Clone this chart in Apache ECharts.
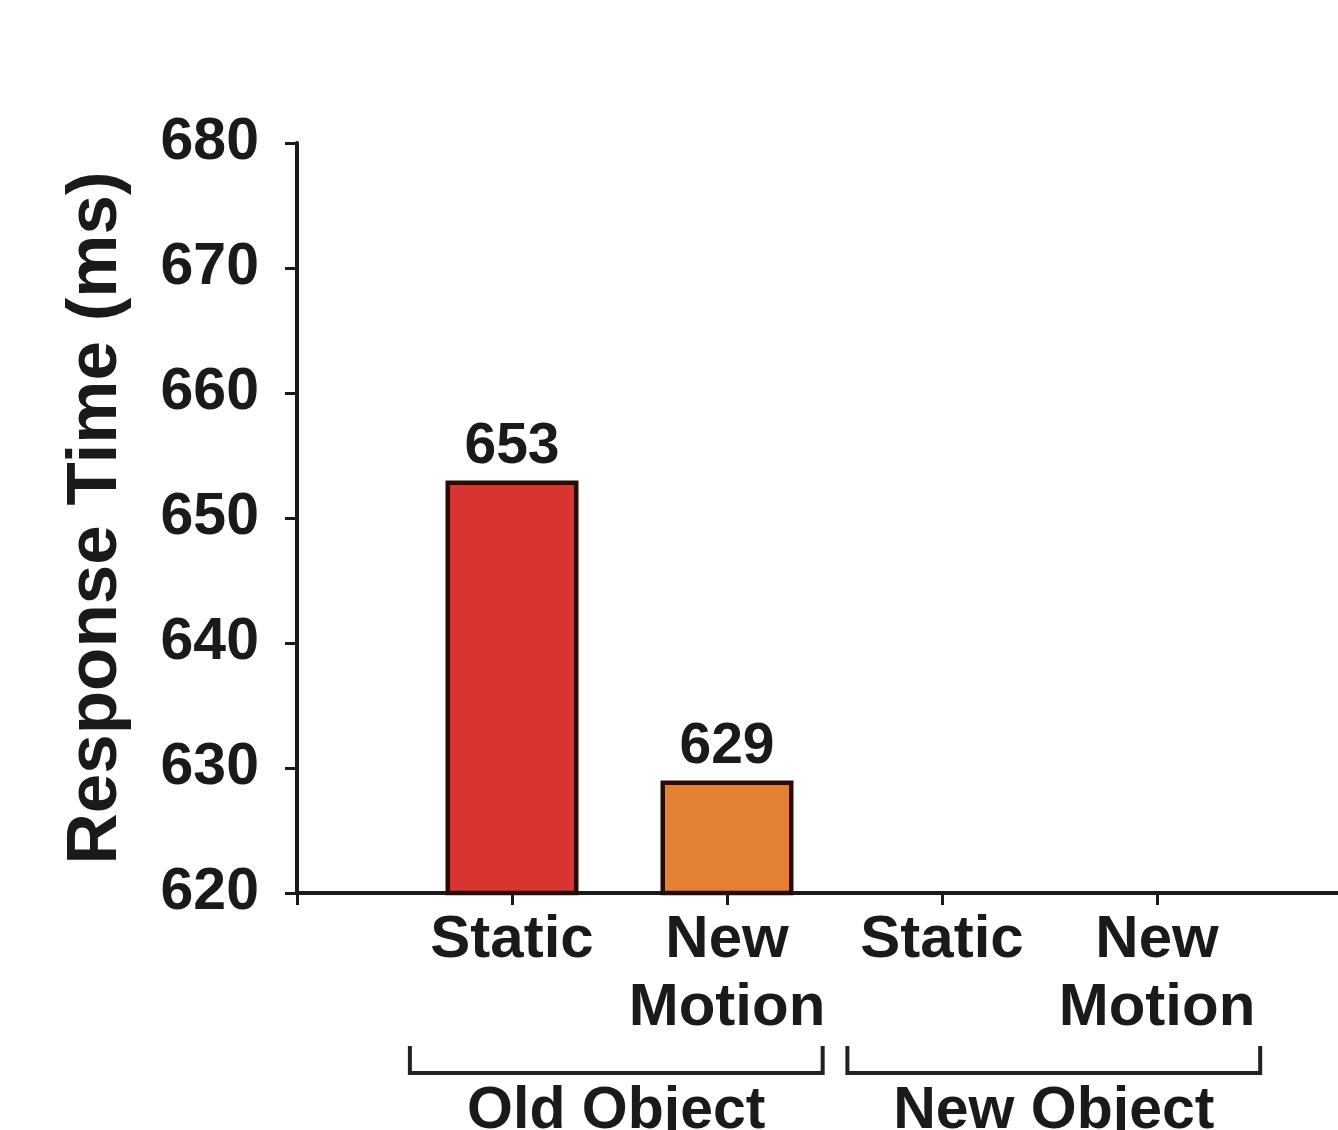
<!DOCTYPE html>
<html>
<head>
<meta charset="utf-8">
<script src="https://cdn.jsdelivr.net/npm/echarts@6/dist/echarts.min.js"></script>
<style>
html,body{margin:0;padding:0;background:#fff;}
#chart{width:1338px;height:1130px;}
</style>
</head>
<body>
<div id="chart"></div>
<script>
// ---- data ----
var categories = ['', 'Static', 'New\nMotion', 'Static', 'New\nMotion', ''];
var responseTimes = [null, 653, 629, null, null, null];
var barColors = ['#ffffff', '#d93431', '#e38034', '#ffffff', '#ffffff', '#ffffff'];
var groupNames = ['Old Object', 'New Object'];
var groupStart = [1, 3];
var groupEnd = [2, 4];
var yTicks = [620, 630, 640, 650, 660, 670, 680];

var FONT = '"Liberation Sans", Arial, sans-serif';
var chart = echarts.init(document.getElementById('chart'));

var option = {
  animation: false,
  backgroundColor: '#ffffff',
  grid: { left: 297, top: 143, height: 750, width: 1075, outerBoundsMode: 'none', containLabel: false },
  xAxis: {
    type: 'category',
    data: categories,
    boundaryGap: false,
    axisLine: { lineStyle: { color: '#1a1a1a', width: 4 } },
    axisTick: { show: true, length: 12, lineStyle: { color: '#1a1a1a', width: 3 } },
    axisLabel: {
      fontFamily: FONT, fontWeight: 'bold', fontSize: 60, color: '#1a1a1a',
      lineHeight: 68, margin: 13, interval: 0
    },
    splitLine: { show: false }
  },
  yAxis: {
    type: 'value',
    min: yTicks[0],
    max: yTicks[yTicks.length - 1],
    interval: 10,
    name: 'Response Time (ms)',
    nameLocation: 'middle',
    nameGap: 165,
    nameTextStyle: { fontFamily: FONT, fontWeight: 'bold', fontSize: 71, color: '#1a1a1a' },
    axisLine: { show: true, lineStyle: { color: '#1a1a1a', width: 4 } },
    axisTick: { show: true, length: 12, lineStyle: { color: '#1a1a1a', width: 3 } },
    axisLabel: {
      fontFamily: FONT, fontWeight: 'bold', fontSize: 59, color: '#1a1a1a', margin: 38
    },
    splitLine: { show: false }
  },
  series: [{
    type: 'bar',
    data: responseTimes.map(function (v, i) {
      return { value: v, itemStyle: { color: barColors[i] } };
    }),
    barWidth: 133,
    itemStyle: { borderColor: '#2a0c06', borderWidth: 4.5 },
    label: {
      show: true, position: 'top', distance: 5,
      fontFamily: FONT, fontWeight: 'bold', fontSize: 57, color: '#1a1a1a',
      formatter: function (p) { return p.value == null ? '' : p.value; }
    }
  }]
};
chart.setOption(option);

// group brackets under the category labels, positioned from the axis scale
function drawGroups() {
  var band = chart.convertToPixel({ xAxisIndex: 0 }, 2) - chart.convertToPixel({ xAxisIndex: 0 }, 1);
  var elements = [];
  for (var g = 0; g < groupNames.length; g++) {
    var leftPad = g === 0 ? 0.475 : 0.44;
    var rightPad = g === 0 ? 0.445 : 0.48;
    var x0 = chart.convertToPixel({ xAxisIndex: 0 }, groupStart[g]) - band * leftPad;
    var x1 = chart.convertToPixel({ xAxisIndex: 0 }, groupEnd[g]) + band * rightPad;
    var yTop = 1046, yBot = 1073;
    elements.push({
      type: 'polyline',
      shape: { points: [[x0, yTop], [x0, yBot], [x1, yBot], [x1, yTop]] },
      style: { stroke: '#222222', lineWidth: 4, fill: null }
    });
    elements.push({
      type: 'text',
      x: (x0 + x1) / 2,
      y: 1112,
      style: {
        text: groupNames[g], fontFamily: FONT, fontWeight: 'bold', fontSize: 59,
        fill: '#1a1a1a', align: 'center', verticalAlign: 'middle'
      }
    });
  }
  chart.setOption({ graphic: { elements: elements } });
}
drawGroups();
</script>
</body>
</html>
